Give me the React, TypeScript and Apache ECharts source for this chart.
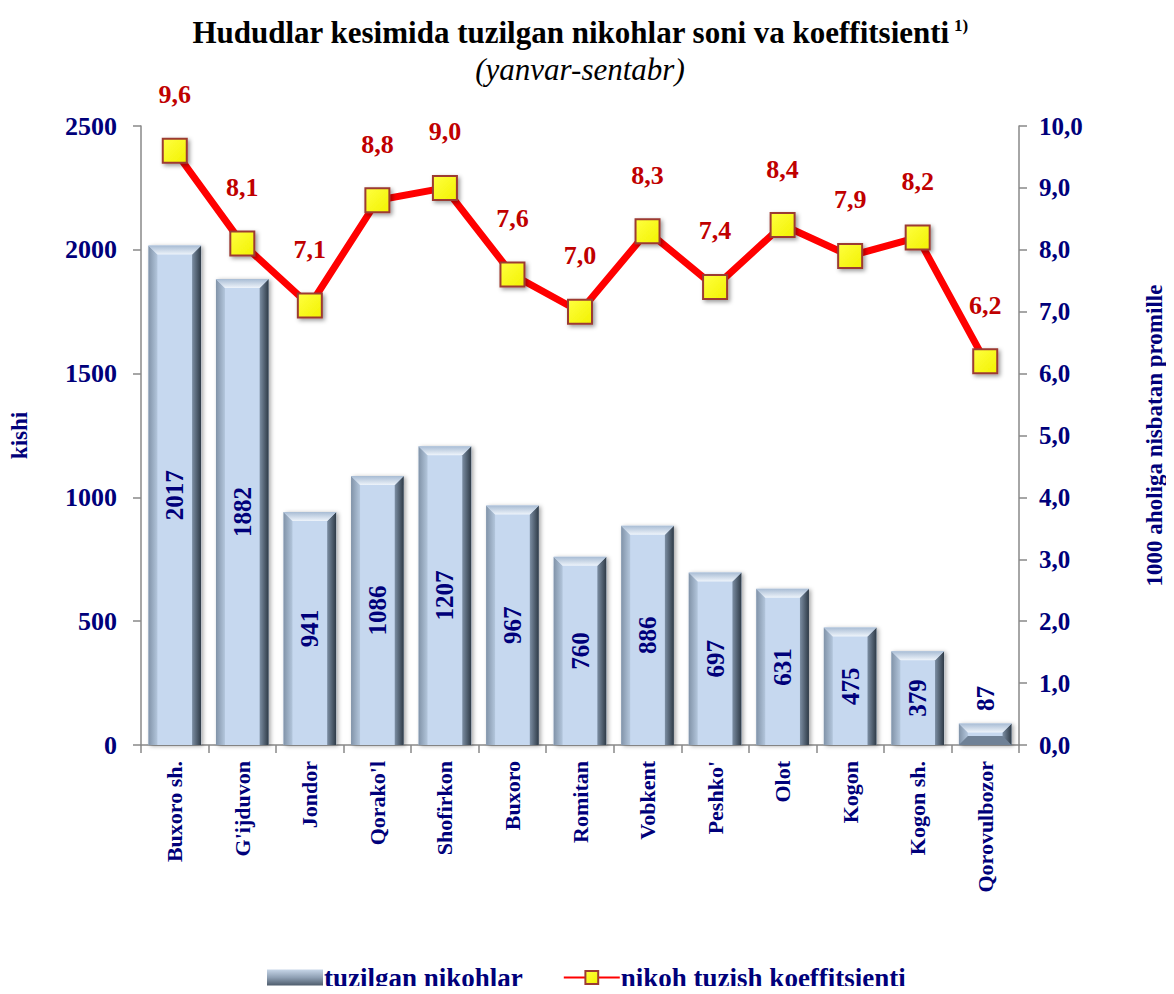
import React, { useEffect, useRef } from "react";
import * as echarts from "echarts";

const categories = ["Buxoro sh.", "G'ijduvon", "Jondor", "Qorako'l", "Shofirkon", "Buxoro", "Romitan", "Vobkent", "Peshko'", "Olot", "Kogon", "Kogon sh.", "Qorovulbozor"];
const marriages = [2017, 1882, 941, 1086, 1207, 967, 760, 886, 697, 631, 475, 379, 87];
const coefficient = [9.6, 8.1, 7.1, 8.8, 9.0, 7.6, 7.0, 8.3, 7.4, 8.4, 7.9, 8.2, 6.2];

const FONT = "Liberation Serif";
const NAVY = "#00007a";

export default function App() {
  const ref = useRef<HTMLDivElement>(null);
  useEffect(() => {
    const chart = echarts.init(ref.current!, undefined, { renderer: "svg" });
    const option: any = {
      animation: false,
      textStyle: { fontFamily: FONT },
      graphic: [
        {
          type: "text",
          x: 580,
          y: 32,
          style: {
            text: "{a|Hududlar kesimida tuzilgan nikohlar soni va koeffitsienti}{s| 1)}",
            align: "center",
            verticalAlign: "middle",
            font: "bold 31px Liberation Serif",
            fill: "#000",
            rich: {
              a: { fontFamily: FONT, fontWeight: "bold", fontSize: 31, fill: "#000" } as any,
              s: { fontFamily: FONT, fontWeight: "bold", fontSize: 17, fill: "#000", verticalAlign: "top", padding: [0, 0, 14, 0] } as any,
            },
          },
        },
        {
          type: "text",
          x: 580,
          y: 69,
          style: {
            text: "(yanvar-sentabr)",
            align: "center",
            verticalAlign: "middle",
            font: "italic 31px Liberation Serif",
            fill: "#000",
          },
        },
      ],
      legend: {
        top: 959,
        left: 262,
        itemGap: 40,
        itemWidth: 56,
        itemHeight: 16,
        textStyle: { fontFamily: FONT, fontWeight: "bold", fontSize: 27, color: NAVY, padding: [0, 0, 0, -4] },
        data: [
          {
            name: "tuzilgan nikohlar",
            icon: "rect",
            itemStyle: {
              color: new echarts.graphic.LinearGradient(0, 0, 0, 1, [
                { offset: 0, color: "#c7d6e8" },
                { offset: 0.5, color: "#8fa0b4" },
                { offset: 1, color: "#4e5c6c" },
              ]),
            },
          },
          { name: "nikoh tuzish koeffitsienti" },
        ],
      },
      grid: { left: 135, right: 146, top: 126, bottom: 249 },
      xAxis: {
        type: "category",
        data: categories,
        boundaryGap: true,
        axisLine: { lineStyle: { color: "#888", width: 1.5 } },
        axisTick: { show: true, length: 8, lineStyle: { color: "#888", width: 1.5 } },
        axisLabel: { rotate: 90, interval: 0, fontFamily: FONT, fontWeight: "bold", fontSize: 22, color: NAVY, margin: 16 },
      },
      yAxis: [
        {
          type: "value",
          min: 0,
          max: 2500,
          interval: 500,
          name: "kishi",
          nameLocation: "middle",
          nameRotate: 90,
          nameGap: 110,
          nameTextStyle: { fontFamily: FONT, fontWeight: "bold", fontSize: 23, color: NAVY },
          axisLine: { show: true, lineStyle: { color: "#888", width: 1.5 } },
          axisTick: { show: true, length: 8, lineStyle: { color: "#888", width: 1.5 } },
          splitLine: { show: false },
          axisLabel: {
            fontFamily: FONT,
            fontWeight: "bold",
            fontSize: 26,
            color: NAVY,
            margin: 24,
            formatter: (v: number) => String(v),
          },
        },
        {
          type: "value",
          min: 0,
          max: 10,
          interval: 1,
          name: "1000 aholiga nisbatan promille",
          nameLocation: "middle",
          nameRotate: 90,
          nameGap: 124,
          nameTextStyle: { fontFamily: FONT, fontWeight: "bold", fontSize: 23, color: NAVY },
          axisLine: { show: true, lineStyle: { color: "#888", width: 1.5 } },
          axisTick: { show: true, length: 8, inside: false, lineStyle: { color: "#888", width: 1.5 } },
          splitLine: { show: false },
          axisLabel: {
            fontFamily: FONT,
            fontWeight: "bold",
            fontSize: 25,
            color: NAVY,
            margin: 20,
            formatter: (v: number) => v.toFixed(1).replace(".", ","),
          },
        },
      ],
      series: [
        {
          name: "tuzilgan nikohlar",
          type: "custom",
          yAxisIndex: 0,
          z: 2,
          data: marriages.map((v, i) => [i, v]),
          renderItem: (params: any, api: any) => {
            const idx = api.value(0);
            const val = api.value(1);
            const top = api.coord([idx, val]);
            const bottom = api.coord([idx, 0]);
            const band = api.size([1, 0])[0];
            const w = band * 0.78;
            const x0 = top[0] - w / 2;
            const x1 = top[0] + w / 2;
            const y0 = top[1];
            const y1 = bottom[1];
            const h = y1 - y0;
            const b = Math.min(9, h / 2.2);
            const label = String(val);
            const small = h < 60;
            const labelY = small ? y0 - 25 : (y0 + y1) / 2;
            return {
              type: "group",
              children: [
                {
                  type: "rect",
                  shape: { x: x0, y: y0, width: w, height: h },
                  style: { fill: "#c6d8ef", shadowBlur: 4, shadowColor: "rgba(0,0,0,0.35)", shadowOffsetX: 2, shadowOffsetY: 1 },
                },
                {
                  type: "polygon",
                  shape: { points: [[x0, y0], [x0 + b, y0 + b], [x0 + b, y1], [x0, y1]] },
                  style: {
                    fill: new echarts.graphic.LinearGradient(0, 0, 1, 0, [
                      { offset: 0, color: "#8193a8" },
                      { offset: 1, color: "#b3c6dc" },
                    ]),
                  },
                },
                {
                  type: "polygon",
                  shape: { points: [[x1, y0], [x1 - b, y0 + b], [x1 - b, y1], [x1, y1]] },
                  style: {
                    fill: new echarts.graphic.LinearGradient(0, 0, 1, 0, [
                      { offset: 0, color: "#7c8ea3" },
                      { offset: 1, color: "#2e3a46" },
                    ]),
                  },
                },
                {
                  type: "polygon",
                  shape: { points: [[x0, y0], [x1, y0], [x1 - b, y0 + b], [x0 + b, y0 + b]] },
                  style: {
                    fill: new echarts.graphic.LinearGradient(0, 0, 0, 1, [
                      { offset: 0, color: "#a8bcd4" },
                      { offset: 1, color: "#eef4fb" },
                    ]),
                  },
                },
                {
                  type: "polygon",
                  shape: { points: [[x0, y1], [x1, y1], [x1 - b, y1 - b], [x0 + b, y1 - b]] },
                  style: { fill: small ? "#6f8196" : "rgba(0,0,0,0)" },
                },
                {
                  type: "text",
                  x: top[0],
                  y: labelY,
                  rotation: Math.PI / 2,
                  style: {
                    text: label,
                    fontFamily: FONT,
                    fontWeight: "bold",
                    fontSize: 25,
                    fill: NAVY,
                    align: "center",
                    verticalAlign: "middle",
                  },
                },
              ],
            };
          },
        },
        {
          name: "nikoh tuzish koeffitsienti",
          type: "line",
          yAxisIndex: 1,
          z: 5,
          data: coefficient,
          symbol: "rect",
          symbolSize: 24,
          lineStyle: { color: "#ff0000", width: 7 },
          itemStyle: {
            color: new echarts.graphic.LinearGradient(0, 0, 1, 1, [
              { offset: 0, color: "#ffff40" },
              { offset: 1, color: "#f2f200" },
            ]),
            borderColor: "#9c3b33",
            borderWidth: 2,
            shadowBlur: 4,
            shadowColor: "rgba(0,0,0,0.4)",
            shadowOffsetX: 2,
            shadowOffsetY: 2,
          },
          label: {
            show: true,
            position: "top",
            distance: 30,
            fontFamily: FONT,
            fontWeight: "bold",
            fontSize: 26,
            color: "#c00000",
            formatter: (p: any) => Number(p.value).toFixed(1).replace(".", ","),
          },
        },
      ],
    };
    chart.setOption(option);
    return () => chart.dispose();
  }, []);
  return <div ref={ref} style={{ width: 1174, height: 994, margin: -8 }} />;
}
